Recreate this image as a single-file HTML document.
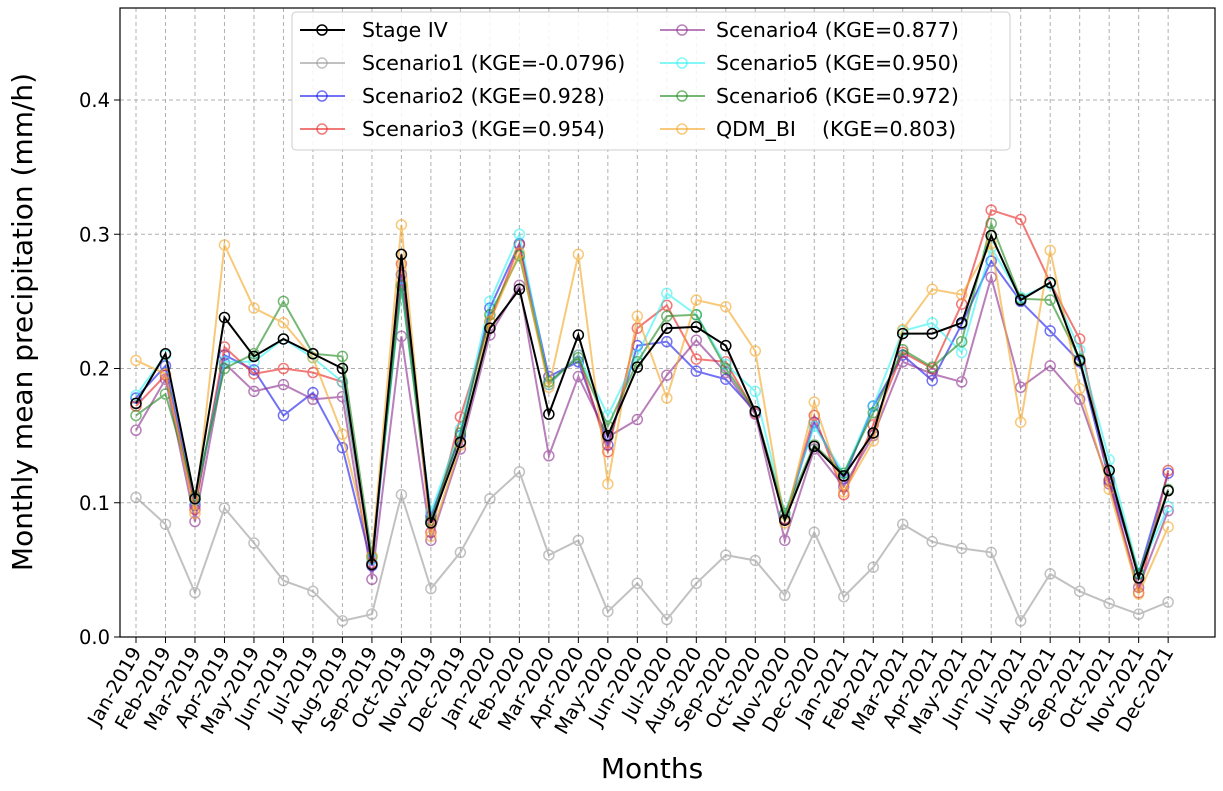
<!DOCTYPE html>
<html><head><meta charset="utf-8"><style>
body{margin:0;background:#fff;}
svg text{font-family:"DejaVu Sans","Liberation Sans",sans-serif;white-space:pre;}
</style></head><body>
<svg id="chart" width="1223" height="786" xmlns="http://www.w3.org/2000/svg">
<g id="grid"></g>
<g id="series"></g>
<rect x="120" y="8" width="1095" height="629" fill="none" stroke="#000" stroke-width="1.2"/>
<g id="axes"></g>
<text x="32" y="322" font-size="28" text-anchor="middle" transform="rotate(-90 32 322)">Monthly mean precipitation (mm/h)</text>
<text x="652" y="778" font-size="28" text-anchor="middle">Months</text>
<g id="legend"></g>
</svg>
<script>
const months=["Jan","Feb","Mar","Apr","May","Jun","Jul","Aug","Sep","Oct","Nov","Dec"];
const categories=[];for(const y of [2019,2020,2021])for(const m of months)categories.push(m+"-"+y);
const yTicks=[0.0,0.1,0.2,0.3,0.4];
const stage4=[0.174,0.211,0.103,0.238,0.209,0.222,0.211,0.200,0.054,0.285,0.085,0.145,0.230,0.259,0.166,0.225,0.150,0.201,0.230,0.231,0.217,0.168,0.087,0.142,0.120,0.152,0.226,0.226,0.234,0.299,0.251,0.264,0.206,0.124,0.044,0.109];
const scen1=[0.104,0.084,0.033,0.096,0.070,0.042,0.034,0.012,0.017,0.106,0.036,0.063,0.103,0.123,0.061,0.072,0.019,0.040,0.013,0.040,0.061,0.057,0.031,0.078,0.030,0.052,0.084,0.071,0.066,0.063,0.012,0.047,0.034,0.025,0.017,0.026];
const scen2=[0.178,0.202,0.098,0.210,0.199,0.165,0.182,0.141,0.053,0.270,0.090,0.150,0.245,0.293,0.194,0.205,0.143,0.217,0.220,0.198,0.192,0.168,0.088,0.160,0.118,0.172,0.210,0.191,0.233,0.280,0.250,0.228,0.205,0.117,0.047,0.122];
const scen3=[0.172,0.195,0.095,0.216,0.196,0.200,0.197,0.190,0.055,0.278,0.078,0.164,0.235,0.292,0.188,0.210,0.138,0.230,0.247,0.207,0.205,0.167,0.088,0.165,0.106,0.158,0.212,0.200,0.248,0.318,0.311,0.264,0.222,0.116,0.033,0.124];
const scen4=[0.154,0.192,0.086,0.204,0.183,0.188,0.177,0.179,0.043,0.224,0.072,0.140,0.225,0.262,0.135,0.194,0.149,0.162,0.195,0.221,0.197,0.166,0.072,0.140,0.112,0.150,0.205,0.196,0.190,0.268,0.186,0.202,0.177,0.114,0.037,0.094];
const scen5=[0.180,0.210,0.102,0.205,0.205,0.222,0.208,0.190,0.058,0.260,0.093,0.155,0.250,0.300,0.188,0.210,0.165,0.210,0.256,0.240,0.203,0.183,0.092,0.157,0.122,0.172,0.228,0.234,0.212,0.290,0.253,0.263,0.214,0.132,0.048,0.097];
const scen6=[0.165,0.181,0.105,0.200,0.211,0.250,0.211,0.209,0.060,0.262,0.087,0.152,0.240,0.284,0.190,0.208,0.157,0.205,0.239,0.240,0.200,0.168,0.092,0.143,0.122,0.167,0.214,0.201,0.220,0.308,0.252,0.251,0.207,0.124,0.047,0.110];
const qdm=[0.206,0.196,0.092,0.292,0.245,0.234,0.208,0.151,0.060,0.307,0.075,0.143,0.235,0.286,0.186,0.285,0.114,0.239,0.178,0.251,0.246,0.213,0.085,0.175,0.108,0.146,0.229,0.259,0.255,0.293,0.160,0.288,0.185,0.110,0.032,0.082];
const seriesNames=["Stage IV","Scenario1 (KGE=-0.0796)","Scenario2 (KGE=0.928)","Scenario3 (KGE=0.954)","Scenario4 (KGE=0.877)","Scenario5 (KGE=0.950)","Scenario6 (KGE=0.972)","QDM_BI    (KGE=0.803)"];

const NS="http://www.w3.org/2000/svg";
const X0=136,DX=29.49,Y0=637,SY=1342.5;
const xs=i=>X0+i*DX, ys=v=>Y0-v*SY;
function mk(t,a,p){const e=document.createElementNS(NS,t);for(const k in a)e.setAttribute(k,a[k]);p.appendChild(e);return e;}
const grid=document.getElementById('grid'),axes=document.getElementById('axes');
categories.forEach((c,i)=>{
 const g=mk('line',{x1:xs(i),x2:xs(i),y1:8,y2:637,stroke:'#b0b0b0','stroke-dasharray':'4,3','stroke-width':1},grid);
 
 
 const tk=mk('line',{x1:xs(i),x2:xs(i),y1:637,y2:643,stroke:'#000'},axes);
 
 
 const x=xs(i)+6,y=652;
 const t=mk('text',{x:x,y:y,'font-size':19.5,'text-anchor':'end',transform:`rotate(-60 ${x} ${y})`},axes);
 t.textContent=c;
 
 
});
yTicks.forEach(v=>{
 const g=mk('line',{x1:120,x2:1215,y1:ys(v),y2:ys(v),stroke:'#b0b0b0','stroke-dasharray':'4,3'},grid);
 
 
 const tk=mk('line',{x1:114,x2:120,y1:ys(v),y2:ys(v),stroke:'#000'},axes);
 
 
 const t=mk('text',{x:110,y:ys(v)+7,'font-size':19.5,'text-anchor':'end'},axes);
 t.textContent=v.toFixed(1);
 
 
});
const data=[scen1,scen2,scen3,scen4,scen5,scen6,qdm,stage4];
const cols=['#999999','#0000ee','#e8231f','#8b2b8e','#1ff2f2','#1b8a1b','#f5a623','#000000'];
const ops=[0.6,0.55,0.6,0.6,0.55,0.6,0.6,1];
const names=['scenario1','scenario2','scenario3','scenario4','scenario5','scenario6','qdm-bi','stage-iv'];
const sg=document.getElementById('series');
data.forEach((arr,k)=>{
 const g=mk('g',{opacity:ops[k]},sg);
 
 
 const l=mk('polyline',{points:arr.map((v,i)=>xs(i)+','+ys(v)).join(' '),fill:'none',stroke:cols[k],'stroke-width':2},g);
 
 
 arr.forEach((v,i)=>{
  const c=mk('circle',{cx:xs(i),cy:ys(v),r:5,fill:'none',stroke:cols[k],'stroke-width':1.5},g);
  
  
 });
});
const lg=document.getElementById('legend');
const box=mk('rect',{x:292,y:12,width:718,height:138,rx:4,fill:'#fff','fill-opacity':0.85,stroke:'#ccc'},lg);


const lcols=['#000000','#999999','#0000ee','#e8231f','#8b2b8e','#1ff2f2','#1b8a1b','#f5a623'];
const lops=[1,0.6,0.55,0.6,0.6,0.55,0.6,0.6];
seriesNames.forEach((n,i)=>{
 const col=i<4?0:1,row=i%4;
 const lx=col?660:300,tx=col?716:362,y=30+row*33;
 const g=mk('g',{},lg);
 
 
 mk('line',{x1:lx,x2:lx+45,y1:y,y2:y,stroke:lcols[i],'stroke-width':2,opacity:lops[i]},g);
 mk('circle',{cx:lx+22,cy:y,r:5,fill:'none',stroke:lcols[i],'stroke-width':1.5,opacity:lops[i]},g);
 const t=mk('text',{x:tx,y:y+7,'font-size':20.5},g);
 t.textContent=n;
});
</script>
</body></html>
